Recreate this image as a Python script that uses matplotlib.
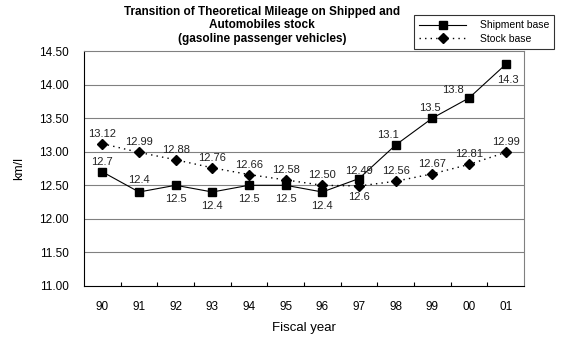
import matplotlib
matplotlib.use("Agg")
import matplotlib.pyplot as plt
import numpy as np

years = ["90", "91", "92", "93", "94", "95", "96", "97", "98", "99", "00", "01"]
shipment = [12.7, 12.4, 12.5, 12.4, 12.5, 12.5, 12.4, 12.6, 13.1, 13.5, 13.8, 14.3]
stock = [13.12, 12.99, 12.88, 12.76, 12.66, 12.58, 12.50, 12.49, 12.56, 12.67, 12.81, 12.99]
ship_labels = ["12.7", "12.4", "12.5", "12.4", "12.5", "12.5", "12.4", "12.6", "13.1", "13.5", "13.8", "14.3"]
stock_labels = ["13.12", "12.99", "12.88", "12.76", "12.66", "12.58", "12.50", "12.49", "12.56", "12.67", "12.81", "12.99"]
yticks = [11.0, 11.5, 12.0, 12.5, 13.0, 13.5, 14.0, 14.5]

# label offsets in pixels (dx, dy)
ship_off = [(0, 10), (0, 12), (0, -14), (0, -14), (0, -14), (0, -14), (0, -14), (0, -18),
            (-8, 10), (-2, 10), (-16, 8), (2, -16)]
stock_off = [(0, 10), (0, 10), (0, 10), (0, 10), (0, 10), (0, 10), (0, 10), (0, 15),
             (0, 10), (0, 10), (0, 10), (0, 10)]

plt.rcParams['font.family'] = ['Liberation Sans', 'DejaVu Sans']

fig = plt.figure(figsize=(5.73, 3.38), dpi=100)
ax = fig.add_axes([84/573, 1-286/338, (524-84)/573, (286-51)/338])

x = np.arange(len(years))
ax.plot(x, shipment, color='black', lw=0.8, marker='s', ms=6, label='Shipment base')
ax.plot(x, stock, color='black', lw=1, ls=(0, (1, 3)), marker='D', ms=5.5, label='Stock base')

for i in range(len(years)):
    ax.annotate(ship_labels[i], (x[i], shipment[i]), xytext=ship_off[i], textcoords='offset pixels',
                ha='center', va='center', fontsize=8, color='#222222')
    ax.annotate(stock_labels[i], (x[i], stock[i]), xytext=stock_off[i], textcoords='offset pixels',
                ha='center', va='center', fontsize=8, color='#222222')

ax.set_xlim(-0.5, len(years) - 0.5)
ax.set_ylim(11.0, 14.5)
ax.set_yticks(yticks)
ax.set_yticklabels(["%.2f" % v for v in yticks], fontsize=8.5)
ax.tick_params(axis='y', length=0, pad=11)
ax.set_xticks(x)
ax.set_xticklabels(years, fontsize=8.5)
ax.tick_params(axis='x', which='major', length=0, pad=11)
ax.set_xticks(np.arange(len(years) - 1) + 0.5, minor=True)
ax.tick_params(axis='x', which='minor', direction='in', length=3, width=0.8)
for v in yticks[1:-1]:
    ax.axhline(v, color='#808080', lw=0.8, zorder=0)
for s in ['top', 'right']:
    ax.spines[s].set_color('#808080')
    ax.spines[s].set_linewidth(0.8)
for s in ['left', 'bottom']:
    ax.spines[s].set_linewidth(0.8)

ax.set_ylabel("km/l", fontsize=9, labelpad=10)
ax.set_xlabel("Fiscal year", fontsize=9.5, labelpad=6)

fig.text(262/573, 1-6/338, "Transition of Theoretical Mileage on Shipped and\nAutomobiles stock\n(gasoline passenger vehicles)",
         ha='center', va='top', fontsize=8.5, fontweight='bold', linespacing=1.15)

leg = fig.legend(loc='upper left', bbox_to_anchor=(409/573, 1-10/338), fontsize=7.5, frameon=True,
                 fancybox=False, edgecolor='black', borderpad=0.5, handlelength=4.5, labelspacing=0.35,
                 handletextpad=1.3)
leg.get_frame().set_linewidth(0.8)

fig.savefig("out.png", dpi=100)
